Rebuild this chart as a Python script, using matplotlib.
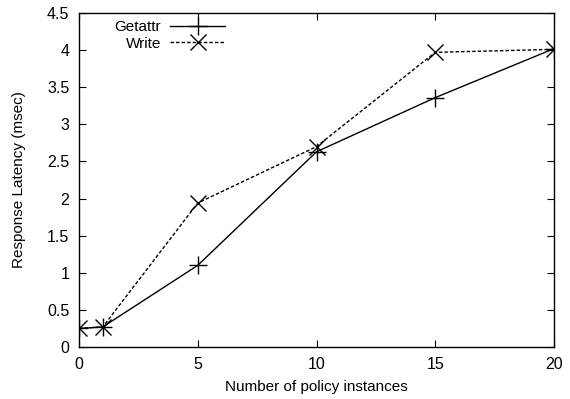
import matplotlib.pyplot as plt

plt.rcParams['font.family'] = ['Liberation Sans', 'DejaVu Sans']

# 数据
instances = [0, 1, 5, 10, 15, 20]
getattr_lat = [0.25, 0.27, 1.10, 2.63, 3.36, 4.02]
write_lat = [0.25, 0.27, 1.94, 2.70, 3.97, 4.01]

fig = plt.figure(figsize=(5.7, 3.99), dpi=100)
ax = fig.add_axes([79 / 570, 1 - 347 / 399, (554 - 79) / 570, (347 - 13) / 399])

ax.plot(instances, getattr_lat, color='black', lw=1, marker='+', ms=13, mew=1, label='Getattr')
ax.plot(instances, write_lat, color='black', lw=1, ls=(0, (2.5, 1.5)), marker='x', ms=11, mew=1,
        label='Write')

ax.set_xlim(0, 20)
ax.set_ylim(0, 4.5)
ax.set_xticks([0, 5, 10, 15, 20])
ax.set_yticks([0, 0.5, 1, 1.5, 2, 2.5, 3, 3.5, 4, 4.5])
ax.set_yticklabels(['0', '0.5', '1', '1.5', '2', '2.5', '3', '3.5', '4', '4.5'])
ax.tick_params(direction='in', top=True, right=True, length=5, width=0.8, labelsize=11.5, pad=7)
for s in ax.spines.values():
    s.set_linewidth(1)

ax.set_xlabel('Number of policy instances', fontsize=11, labelpad=6)
ax.set_ylabel('Response Latency (msec)', fontsize=11, labelpad=15)

ax.legend(loc='upper left', frameon=False, markerfirst=False, fontsize=11, handlelength=3.6,
          bbox_to_anchor=(0.055, 1.005), borderaxespad=0.2, labelspacing=0.15, handletextpad=0.6)

plt.savefig('out.png', dpi=100)
